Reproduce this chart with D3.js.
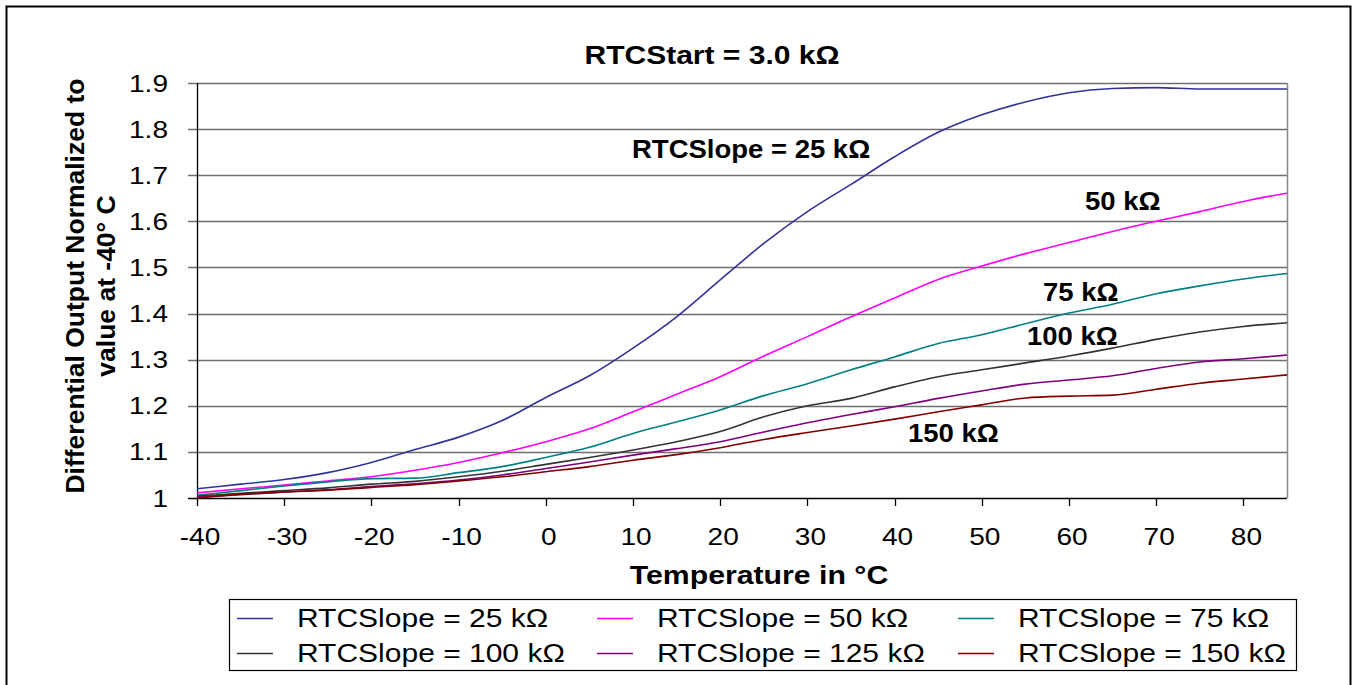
<!DOCTYPE html>
<html><head><meta charset="utf-8">
<script src="https://cdn.jsdelivr.net/npm/d3@7"></script>
<style>
html,body{margin:0;padding:0;background:#fff;}
svg{display:block;font-family:"Liberation Sans",Arial,sans-serif;}
</style></head>
<body>
<svg id="chart" width="1352" height="685"></svg>
<script>
const temps = [-40,-35,-30,-25,-20,-15,-10,-5,0,5,10,15,20,25,30,35,40,45,50,55,60,65,70,75,80,85];
const slope25  = [1.020,1.030,1.040,1.055,1.077,1.105,1.132,1.168,1.218,1.265,1.325,1.393,1.473,1.552,1.621,1.680,1.740,1.793,1.831,1.859,1.879,1.888,1.890,1.887,1.887,1.887];
const slope50  = [1.011,1.020,1.028,1.037,1.046,1.060,1.077,1.098,1.122,1.150,1.187,1.225,1.263,1.308,1.350,1.393,1.434,1.474,1.503,1.530,1.554,1.578,1.600,1.621,1.643,1.661];
const slope75  = [1.006,1.016,1.026,1.035,1.042,1.043,1.055,1.068,1.088,1.110,1.140,1.165,1.191,1.222,1.248,1.278,1.306,1.335,1.354,1.378,1.401,1.420,1.443,1.460,1.475,1.487];
const slope100 = [1.004,1.010,1.016,1.022,1.030,1.036,1.046,1.058,1.073,1.088,1.104,1.122,1.144,1.176,1.200,1.216,1.241,1.263,1.278,1.293,1.308,1.325,1.344,1.360,1.372,1.380];
const slope125 = [1.002,1.007,1.013,1.018,1.025,1.031,1.039,1.050,1.064,1.078,1.093,1.107,1.122,1.143,1.163,1.181,1.198,1.216,1.232,1.247,1.256,1.265,1.281,1.295,1.302,1.310];
const slope150 = [1.000,1.008,1.013,1.017,1.023,1.029,1.037,1.046,1.057,1.068,1.082,1.094,1.109,1.127,1.142,1.156,1.171,1.187,1.202,1.217,1.221,1.223,1.236,1.249,1.258,1.267];
const seriesNames = ["RTCSlope = 25 kΩ","RTCSlope = 50 kΩ","RTCSlope = 75 kΩ","RTCSlope = 100 kΩ","RTCSlope = 125 kΩ","RTCSlope = 150 kΩ"];
const seriesColors = ["#333399","#ff00ff","#008080","#333333","#800080","#800000"];
const xTicks = [-40,-30,-20,-10,0,10,20,30,40,50,60,70,80];
const yTicks = [1,1.1,1.2,1.3,1.4,1.5,1.6,1.7,1.8,1.9];
const chartTitle = "RTCStart = 3.0 kΩ";
const xTitle = "Temperature in °C";
const yTitleLines = ["Differential Output Normalized to","value at -40° C"];
const curveLabels = ["RTCSlope = 25 kΩ","50 kΩ","75 kΩ","100 kΩ","150 kΩ"];
const curveLabelAt = [[632,158],[1085,210],[1043,301],[1027,345],[908,442]];

const allSeries = [slope25,slope50,slope75,slope100,slope125,slope150];
const svg = d3.select("#chart");
const L=197,R=1287,T=83,B=498;
const SX = 1.15;
const x = d3.scaleLinear().domain([-40,85]).range([L,R]);
const y = d3.scaleLinear().domain([1,1.9]).range([B,T]);

function stext(g, str, px, py, opts){
  const t = g.append("text").text(str)
    .attr("transform", `translate(${px},${py}) scale(${opts.sx||SX},1)`)
    .attr("font-size", opts.size||23)
    .attr("font-weight", opts.bold?"bold":"normal")
    .attr("text-anchor", opts.anchor||"start")
    .attr("fill","#000");
  return t;
}

// outer border
svg.append("rect").attr("x",6.5).attr("y",6.5).attr("width",1344).attr("height",700)
  .attr("fill","none").attr("stroke","#000").attr("stroke-width",2);

// gridlines
svg.append("g").selectAll("line").data(yTicks).join("line")
  .attr("x1",L-9).attr("x2",R).attr("y1",d=>Math.round(y(d))+0.5).attr("y2",d=>Math.round(y(d))+0.5)
  .attr("stroke",d=>d===1?"#000":"#6e6e6e").attr("stroke-width",1.3);
// right border
svg.append("line").attr("x1",R+0.5).attr("x2",R+0.5).attr("y1",T).attr("y2",B)
  .attr("stroke","#888").attr("stroke-width",1.5);
// left axis
svg.append("line").attr("x1",L+0.5).attr("x2",L+0.5).attr("y1",T).attr("y2",B+0.5)
  .attr("stroke","#000").attr("stroke-width",1.3);
// x ticks
svg.append("g").selectAll("line").data(xTicks).join("line")
  .attr("x1",d=>Math.round(x(d))+0.5).attr("x2",d=>Math.round(x(d))+0.5)
  .attr("y1",B).attr("y2",B+8).attr("stroke","#000").attr("stroke-width",1.3);

const lab = svg.append("g");
yTicks.forEach(v=>{
  stext(lab, d3.format(v===1?"d":".1f")(v), 168, y(v)+8.5, {anchor:"end", size:24, sx:1.17});
});
xTicks.forEach(v=>{
  stext(lab, String(v), x(v)+3, 545, {anchor:"middle", size:24, sx:1.17});
});

// lines
const line = d3.line().x((d,i)=>x(temps[i])).y(d=>y(d)).curve(d3.curveMonotoneX);
svg.append("g").selectAll("path").data(allSeries).join("path")
  .attr("d",line).attr("fill","none")
  .attr("stroke",(d,i)=>seriesColors[i]).attr("stroke-width",1.6);

// titles
stext(svg, chartTitle, 712, 64, {anchor:"middle", size:25, bold:true, sx:1.2});
stext(svg, xTitle, 759, 584, {anchor:"middle", size:25, bold:true, sx:1.21});
const yt = svg.append("g").attr("transform","translate(0,286)");
yTitleLines.forEach((s,i)=>{
  yt.append("text").text(s).attr("transform",`translate(${84+i*31},0) rotate(-90) scale(1.06,1)`)
    .attr("text-anchor","middle").attr("font-size",25).attr("font-weight","bold");
});
curveLabels.forEach((s,i)=>{
  stext(svg, s, curveLabelAt[i][0], curveLabelAt[i][1], {size:25, bold:true, sx:1.1});
});

// legend
const lg = svg.append("g");
lg.append("rect").attr("x",229.5).attr("y",599.5).attr("width",1067).attr("height",71)
  .attr("fill","#fff").attr("stroke","#000").attr("stroke-width",1.2);
const colX = [237,597,958], rowY=[618,653];
seriesNames.forEach((s,i)=>{
  const cx = colX[i%3], cy = rowY[Math.floor(i/3)];
  lg.append("line").attr("x1",cx).attr("x2",cx+36).attr("y1",cy+0.5).attr("y2",cy+0.5)
    .attr("stroke",seriesColors[i]).attr("stroke-width",1.6);
  stext(lg, s, cx+60, cy+9, {size:25, sx:1.2});
});
</script>
</body></html>
